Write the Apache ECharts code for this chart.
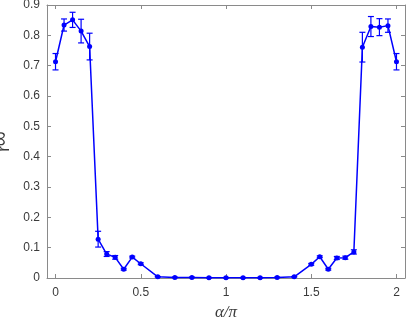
<!DOCTYPE html>
<html>
<head>
<meta charset="utf-8">
<title>r vs alpha/pi</title>
<script src="https://cdn.jsdelivr.net/npm/echarts@6/dist/echarts.min.js"></script>
<style>
  html, body { margin: 0; padding: 0; background: #fff; }
  #chart { width: 407px; height: 322px; }
</style>
</head>
<body>
<div id="chart"></div>
<script>
// alpha / pi
var alphaPi = [0, 0.05, 0.1, 0.15, 0.2, 0.25, 0.3, 0.35, 0.4, 0.45, 0.5, 0.6, 0.7, 0.8, 0.9, 1.0,
  1.1, 1.2, 1.3, 1.4, 1.5, 1.55, 1.6, 1.65, 1.7, 1.75, 1.8, 1.85, 1.9, 1.95, 2.0]
// r_inf mean
var rInf = [0.713, 0.834, 0.851, 0.814, 0.763, 0.128, 0.079, 0.068, 0.029, 0.069, 0.047, 0.004, 0.002,
  0.002, 0.001, 0.001, 0.001, 0.001, 0.002, 0.004, 0.045, 0.070, 0.029, 0.066, 0.067, 0.086,
  0.761, 0.829, 0.827, 0.832, 0.713]
// error bar half length
var rErr = [0.027, 0.020, 0.025, 0.039, 0.044, 0.026, 0.008, 0.006, 0.003, 0.003, 0.003, 0.001, 0.001,
  0.001, 0.001, 0.001, 0.001, 0.001, 0.001, 0.001, 0.003, 0.003, 0.003, 0.005, 0.005, 0.007,
  0.049, 0.033, 0.028, 0.022, 0.027]
var xTicks = [0, 0.5, 1, 1.5, 2]

var axisColor = '#8a8a8a'
var textColor = '#3a3a3a'
var blue = '#0000ff'

var chart = echarts.init(document.getElementById('chart'))

var lineData = alphaPi.map(function (x, i) { return [x, rInf[i]] })
var errData = alphaPi.map(function (x, i) { return [x, rInf[i], rErr[i]] })

function xAxisCfg(pos, showLabel) {
  return {
    type: 'value',
    position: pos,
    min: -0.05,
    max: 2.05,
    axisLine: { show: true, onZero: false, lineStyle: { color: axisColor, width: 1 } },
    axisTick: { show: true, inside: true, length: 4, customValues: xTicks, lineStyle: { color: axisColor } },
    axisLabel: {
      show: showLabel,
      customValues: xTicks,
      margin: 9,
      color: textColor,
      fontSize: 12,
      fontFamily: 'Liberation Sans, Arial, sans-serif',
      formatter: function (v) { return String(+v.toFixed(2)) }
    },
    splitLine: { show: false }
  }
}

function yAxisCfg(pos, showLabel) {
  return {
    type: 'value',
    position: pos,
    min: 0,
    max: 0.9,
    interval: 0.1,
    axisLine: { show: true, onZero: false, lineStyle: { color: axisColor, width: 1 } },
    axisTick: { show: true, inside: true, length: 4, lineStyle: { color: axisColor } },
    axisLabel: {
      show: showLabel,
      margin: 7,
      color: textColor,
      fontSize: 12,
      fontFamily: 'Liberation Sans, Arial, sans-serif',
      formatter: function (v) { return String(+v.toFixed(1)) }
    },
    splitLine: { show: false }
  }
}

var xBottom = xAxisCfg('bottom', true)
xBottom.name = 'α/π'
xBottom.nameLocation = 'middle'
xBottom.nameGap = 19
xBottom.nameTextStyle = {
  fontFamily: 'Liberation Serif, Times New Roman, serif',
  fontStyle: 'italic',
  fontSize: 17,
  color: textColor
}

var yLeft = yAxisCfg('left', true)
yLeft.name = '{r|r}{s|∞}'
yLeft.nameLocation = 'middle'
yLeft.nameGap = 22
yLeft.nameTextStyle = {
  color: textColor,
  rich: {
    r: { fontSize: 17, fontFamily: 'Liberation Sans, Arial, sans-serif', color: textColor, lineHeight: 16, verticalAlign: 'top' },
    s: { fontSize: 21, fontFamily: 'Liberation Sans, Arial, sans-serif', color: textColor, lineHeight: 16, verticalAlign: 'bottom', padding: [12, 0, 0, 0] }
  }
}

chart.setOption({
  animation: false,
  grid: { left: 47, right: 2, top: 5, bottom: 44, containLabel: false, outerBoundsMode: 'none' },
  xAxis: [xBottom, xAxisCfg('top', false)],
  yAxis: [yLeft, yAxisCfg('right', false)],
  series: [
    {
      type: 'line',
      data: lineData,
      symbol: 'circle',
      symbolSize: 5,
      lineStyle: { color: blue, width: 1.5 },
      itemStyle: { color: blue },
      z: 3
    },
    {
      type: 'custom',
      data: errData,
      renderItem: function (params, api) {
        var x = api.value(0)
        var y = api.value(1)
        var e = api.value(2)
        var top = api.coord([x, y + e])
        var bot = api.coord([x, y - e])
        var w = 3
        var st = { stroke: blue, lineWidth: 1.2 }
        return {
          type: 'group',
          children: [
            { type: 'line', shape: { x1: top[0], y1: top[1], x2: bot[0], y2: bot[1] }, style: st },
            { type: 'line', shape: { x1: top[0] - w, y1: top[1], x2: top[0] + w, y2: top[1] }, style: st },
            { type: 'line', shape: { x1: bot[0] - w, y1: bot[1], x2: bot[0] + w, y2: bot[1] }, style: st }
          ]
        }
      },
      z: 2
    }
  ]
})
</script>
</body>
</html>
